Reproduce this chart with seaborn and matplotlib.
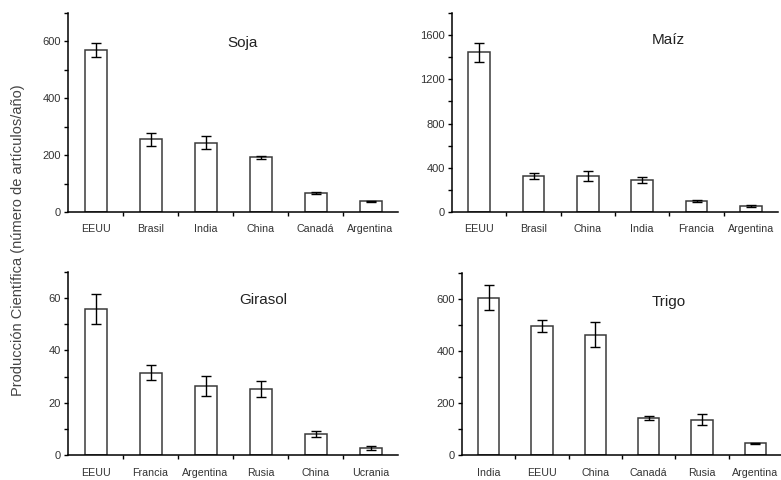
import numpy as np
import pandas as pd
import matplotlib
matplotlib.use("Agg")
import matplotlib.pyplot as plt
import seaborn as sns

sns.set_style("ticks")
plt.rcParams["font.family"] = ["Liberation Sans", "DejaVu Sans"]

# Soja
soja_paises = ["EEUU", "Brasil", "India", "China", "Canadá", "Argentina"]
soja_valores = [570, 256, 243, 192, 67, 38]
soja_error = [25, 23, 23, 5, 5, 2]

# Maiz
maiz_paises = ["EEUU", "Brasil", "China", "India", "Francia", "Argentina"]
maiz_valores = [1445, 325, 326, 290, 99, 55]
maiz_error = [85, 27, 44, 30, 8, 6]

# Girasol
girasol_paises = ["EEUU", "Francia", "Argentina", "Rusia", "China", "Ucrania"]
girasol_valores = [55.9, 31.5, 26.3, 25.3, 8.0, 2.8]
girasol_error = [5.6, 2.8, 3.9, 3.1, 1.3, 0.7]

# Trigo
trigo_paises = ["India", "EEUU", "China", "Canadá", "Rusia", "Argentina"]
trigo_valores = [604, 497, 463, 142, 135, 45]
trigo_error = [48, 22, 48, 8, 21, 3]

W, H = 781, 480
fig = plt.figure(figsize=(W / 100, H / 100), dpi=100)


def panel(px_left, px_right, px_top, px_bottom):
    return fig.add_axes([px_left / W, 1 - px_bottom / H,
                         (px_right - px_left) / W, (px_bottom - px_top) / H])


paneles = [
    ("Soja", soja_paises, soja_valores, soja_error, (68, 398, 13, 212), 700, 100, 200, (243, 43)),
    ("Maíz", maiz_paises, maiz_valores, maiz_error, (452, 778, 13, 212), 1800, 200, 400, (668, 40)),
    ("Girasol", girasol_paises, girasol_valores, girasol_error, (68, 398, 272, 455), 70, 10, 20, (263, 300)),
    ("Trigo", trigo_paises, trigo_valores, trigo_error, (462, 782, 273, 455), 700, 100, 200, (669, 302)),
]

gris = "#333333"
for titulo, paises, valores, errores, caja, ymax, minor, major, tpos in paneles:
    ax = panel(*caja)
    df = pd.DataFrame({"pais": paises, "valor": valores})
    sns.barplot(data=df, x="pais", y="valor", ax=ax, color="white",
                edgecolor="#3a3a3a", linewidth=1.1, width=0.4, errorbar=None)
    ax.errorbar(np.arange(len(paises)), valores, yerr=errores, fmt="none",
                ecolor="black", elinewidth=1, capsize=3.5, capthick=1)
    ax.set_xlim(-0.5, len(paises) - 0.5)
    ax.set_ylim(0, ymax)
    yt = np.arange(0, ymax + 1, minor)
    ax.set_yticks(yt)
    ax.set_yticklabels([str(int(v)) if v % major == 0 and v < ymax else "" for v in yt])
    # etiquetas en el centro de cada barra, marcas entre categorias
    ax.set_xticks(np.arange(len(paises)))
    ax.set_xticklabels(paises)
    ax.set_xticks(np.arange(0.5, len(paises) - 1, 1.0), minor=True)
    ax.tick_params(axis="x", which="major", length=0, pad=9,
                   labelsize=7.7, labelcolor=gris)
    ax.tick_params(axis="x", which="minor", direction="out", length=3, width=1,
                   color="black")
    ax.tick_params(axis="y", direction="out", length=3, width=1,
                   labelsize=8, labelcolor=gris, color="black", pad=2)
    ax.set_xlabel("")
    ax.set_ylabel("")
    sns.despine(ax=ax)
    for s in ["left", "bottom"]:
        ax.spines[s].set_linewidth(1.1)
        ax.spines[s].set_color("black")
    ax.text(tpos[0] / W, 1 - tpos[1] / H, titulo, transform=fig.transFigure,
            ha="center", va="center", fontsize=11, color="#222222")

fig.text(18 / W, 0.5, "Producción Científica (número de artículos/año)",
         rotation=90, ha="center", va="center", fontsize=10.5, color="#444444")

fig.savefig("out.png", dpi=100)
